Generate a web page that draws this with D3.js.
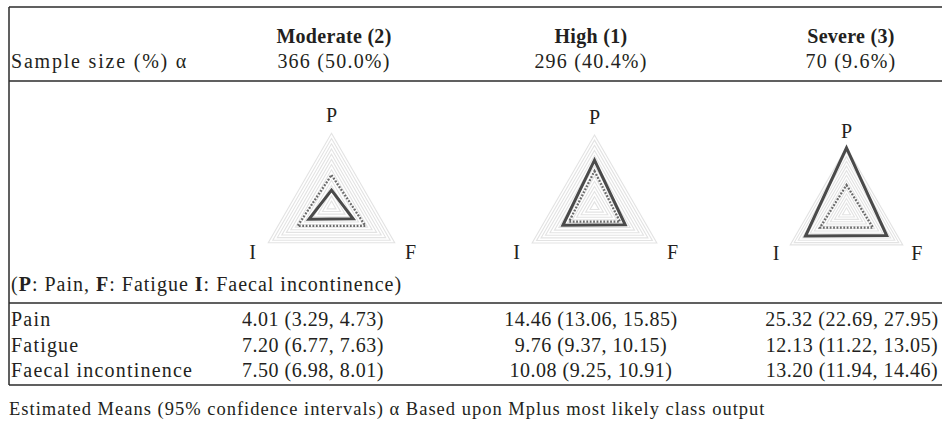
<!DOCTYPE html>
<html><head><meta charset="utf-8">
<script src="https://cdn.jsdelivr.net/npm/d3@7/dist/d3.min.js"></script>
<style>body{margin:0;background:#fff}svg{display:block}text{font-family:"Liberation Serif",serif;fill:#231f20}</style>
</head><body>
<script>
// ---- data ----
const classNames = ["Moderate (2)", "High (1)", "Severe (3)"];
const sampleSizes = ["366 (50.0%)", "296 (40.4%)", "70 (9.6%)"];
const radarAxes = ["P", "F", "I"];
const rowLabels = ["Pain", "Fatigue", "Faecal incontinence"];
// estimated means per class: [Pain, Fatigue, Faecal incontinence]
const meansModerate = [4.01, 7.20, 7.50];
const meansHigh = [14.46, 9.76, 10.08];
const meansSevere = [25.32, 12.13, 13.20];
const lowerModerate = [3.29, 6.77, 6.98];
const lowerHigh = [13.06, 9.37, 9.25];
const lowerSevere = [22.69, 11.22, 11.94];
const upperModerate = [4.73, 7.63, 8.01];
const upperHigh = [15.85, 10.15, 10.91];
const upperSevere = [27.95, 13.05, 14.46];
// radar plotted values (radar units 0-14): [P, F, I]
const radarSolidModerate = [3.1, 4.8, 5.0];
const radarSolidHigh = [9.1, 6.9, 7.1];
const radarSolidSevere = [13.9, 10.0, 10.2];
const radarDottedModerate = [6.0, 7.5, 7.5];
const radarDottedHigh = [7.0, 5.7, 5.7];
const radarDottedSevere = [5.9, 6.6, 6.6];
const radarTicks = d3.range(1, 15); // grid rings 1..14
const legendParts = [["(", false], ["P", true], [": Pain, ", false], ["F", true], [": Fatigue ", false], ["I", true], [": Faecal incontinence)", false]];
const headerLeft = "Sample size (%) α";
const footnote = "Estimated Means (95% confidence intervals) α Based upon Mplus most likely class output";

const means = [meansModerate, meansHigh, meansSevere];
const lowers = [lowerModerate, lowerHigh, lowerSevere];
const uppers = [upperModerate, upperHigh, upperSevere];
const solids = [radarSolidModerate, radarSolidHigh, radarSolidSevere];
const dotteds = [radarDottedModerate, radarDottedHigh, radarDottedSevere];

// ---- layout ----
const W = 942, H = 431;
const fmt = d3.format(".2f");
const svg = d3.select("body").append("svg").attr("width", W).attr("height", H);
svg.append("rect").attr("width", W).attr("height", H).attr("fill", "#fff");

const left = 9;
const ruleY = [7, 81, 303, 385];
svg.selectAll("line.rule").data(ruleY).join("line").attr("class", "rule")
  .attr("x1", left).attr("x2", W).attr("y1", d => d).attr("y2", d => d)
  .attr("stroke", "#2b2b2b").attr("stroke-width", 1.5);
svg.append("line").attr("x1", left).attr("x2", left).attr("y1", 7).attr("y2", 385)
  .attr("stroke", "#2b2b2b").attr("stroke-width", 1.5);

const fs = 20;
const headCx = [334, 591, 851];
const dataCx = [313, 591, 852];

svg.append("text").attr("x", 11).attr("y", 68).attr("font-size", fs).attr("letter-spacing", 1.8).text(headerLeft);
svg.selectAll("text.cls").data(classNames).join("text").attr("class", "cls")
  .attr("x", (d, i) => headCx[i]).attr("y", 43).attr("text-anchor", "middle")
  .attr("font-size", fs).attr("font-weight", "bold").attr("letter-spacing", 0.3).text(d => d);
svg.selectAll("text.ss").data(sampleSizes).join("text").attr("class", "ss")
  .attr("x", (d, i) => headCx[i]).attr("y", 68).attr("text-anchor", "middle")
  .attr("font-size", fs).attr("letter-spacing", 1.2).text(d => d);

// radar charts
const radarGeom = [{cx: 331.5, cy: 206.3, R: 73}, {cx: 594.5, cy: 207, R: 72}, {cx: 846.5, cy: 212.4, R: 65}];
const angle = j => (-90 + 120 * j) * Math.PI / 180;
classNames.forEach((c, i) => {
  const g0 = radarGeom[i];
  const g = svg.append("g").attr("transform", `translate(${g0.cx},${g0.cy})`);
  const r = d3.scaleLinear().domain([0, d3.max(radarTicks)]).range([0, g0.R]);
  const poly = vals => d3.line().curve(d3.curveLinearClosed)(vals.map((v, j) => [r(v) * Math.cos(angle(j)), r(v) * Math.sin(angle(j))]));
  g.selectAll("path.ring").data(radarTicks).join("path").attr("class", "ring")
    .attr("d", t => poly(radarAxes.map(() => t)))
    .attr("fill", "none").attr("stroke", "#e3e3e3").attr("stroke-width", 1.1);
  g.append("path").attr("d", poly(dotteds[i])).attr("fill", "none")
    .attr("stroke", "#6a6a6a").attr("stroke-width", 2.3).attr("stroke-dasharray", "1.8 1.6");
  g.append("path").attr("d", poly(solids[i])).attr("fill", "none")
    .attr("stroke", "#4a4a4a").attr("stroke-width", 3).attr("stroke-linejoin", "miter");
  g.selectAll("text.ax").data(radarAxes).join("text").attr("class", "ax")
    .attr("x", (d, j) => 1.25 * g0.R * Math.cos(angle(j)))
    .attr("y", (d, j) => 1.25 * g0.R * Math.sin(angle(j)))
    .attr("text-anchor", "middle").attr("dominant-baseline", "central")
    .attr("font-size", fs).text(d => d);
});

// legend line
const leg = svg.append("text").attr("x", 11).attr("y", 291).attr("font-size", fs).attr("letter-spacing", 1.0);
leg.selectAll("tspan").data(legendParts).join("tspan")
  .attr("font-weight", d => d[1] ? "bold" : null).text(d => d[0]);

// data rows
const rowY = [326, 352, 377];
rowLabels.forEach((lab, k) => {
  svg.append("text").attr("x", 11).attr("y", rowY[k]).attr("font-size", fs).attr("letter-spacing", 1.2).text(lab);
  classNames.forEach((c, i) => {
    svg.append("text").attr("x", dataCx[i]).attr("y", rowY[k]).attr("text-anchor", "middle")
      .attr("font-size", fs).attr("letter-spacing", 0.5)
      .text(`${fmt(means[i][k])} (${fmt(lowers[i][k])}, ${fmt(uppers[i][k])})`);
  });
});

svg.append("text").attr("x", 9).attr("y", 415).attr("font-size", 18.5).attr("letter-spacing", 1.0).text(footnote);
</script>
</body></html>
